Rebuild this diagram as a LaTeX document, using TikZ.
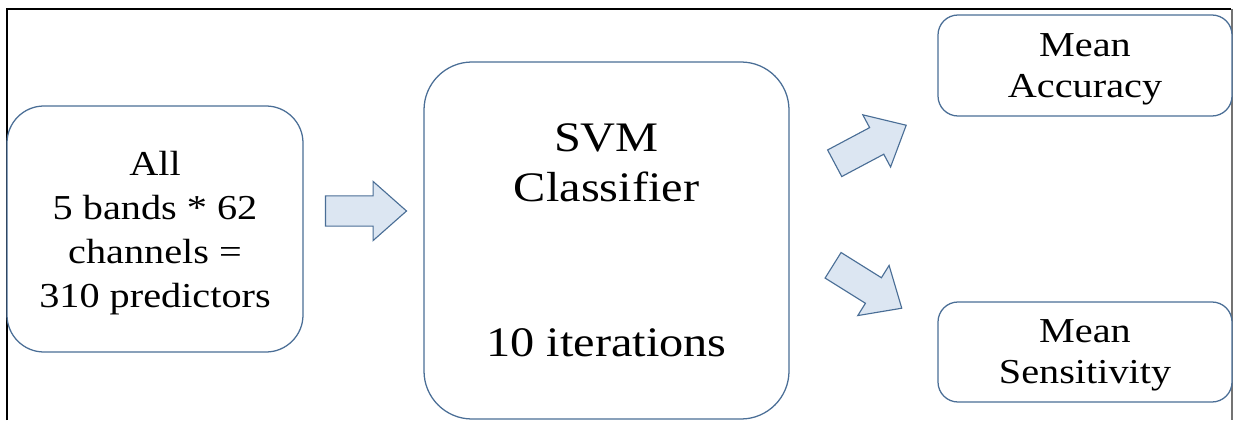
\documentclass[tikz,border=0pt]{standalone}
\usepackage{fontspec}
\setmainfont{Liberation Serif}[FakeStretch=1.15]
\usetikzlibrary{shapes.arrows}
\definecolor{boxline}{RGB}{74,110,150}
\definecolor{arrowfill}{RGB}{220,230,242}
\tikzset{
  roundbox/.style={draw=boxline, line width=0.9pt, fill=white, align=center, inner sep=0pt, text depth=0pt},
  blockarrow/.style={single arrow, draw=boxline, line width=0.8pt, fill=arrowfill, inner xsep=0pt,
    inner ysep=0.3625cm, minimum height=2.025cm, single arrow head extend=0.3625cm,
    single arrow tip angle=83},
}
\begin{document}
\begin{tikzpicture}[font=\fontsize{24.9}{31.3}\selectfont, line join=miter]
        \useasboundingbox (0,0) rectangle (30.825,10.5);
        % outer frame (open at the bottom)
        \draw[line width=1.4pt] (0.175,0) -- (0.175,10.275) -- (30.78,10.275);
        \draw[line width=0.8pt, black!55] (30.8,10.275) -- (30.8,0);
        % boxes
        \node[roundbox, rounded corners=0.925cm, minimum width=7.4cm, minimum height=6.15cm] (all) at (3.875, 4.775)
            {All\\5 bands * 62\\channels =\\310 predictors};
        \node[roundbox, rounded corners=1.2cm, minimum width=9.125cm, minimum height=8.925cm,
            font=\fontsize{29.9}{35.6}\selectfont] (svm) at (15.1625, 4.4875)
            {SVM\\Classifier\\[2.625cm]10 iterations};
        \node[roundbox, rounded corners=0.5cm, minimum width=7.35cm, minimum height=2.525cm,
            font=\fontsize{24.9}{29.2}\selectfont] (acc) at (27.125, 8.8625) {Mean\\Accuracy};
        \node[roundbox, rounded corners=0.5cm, minimum width=7.35cm, minimum height=2.5cm,
            font=\fontsize{24.9}{29.2}\selectfont] (sens) at (27.125, 1.7) {Mean\\Sensitivity};
        % block arrows
        \node[blockarrow] (toSvm) at (8.9375, 5.225) {};
        \node[blockarrow, rotate=28] (toAcc) at (21.573, 6.794) {};
        \node[blockarrow, rotate=-32] (toSens) at (21.505, 3.444) {};
    \end{tikzpicture}
\end{document}
